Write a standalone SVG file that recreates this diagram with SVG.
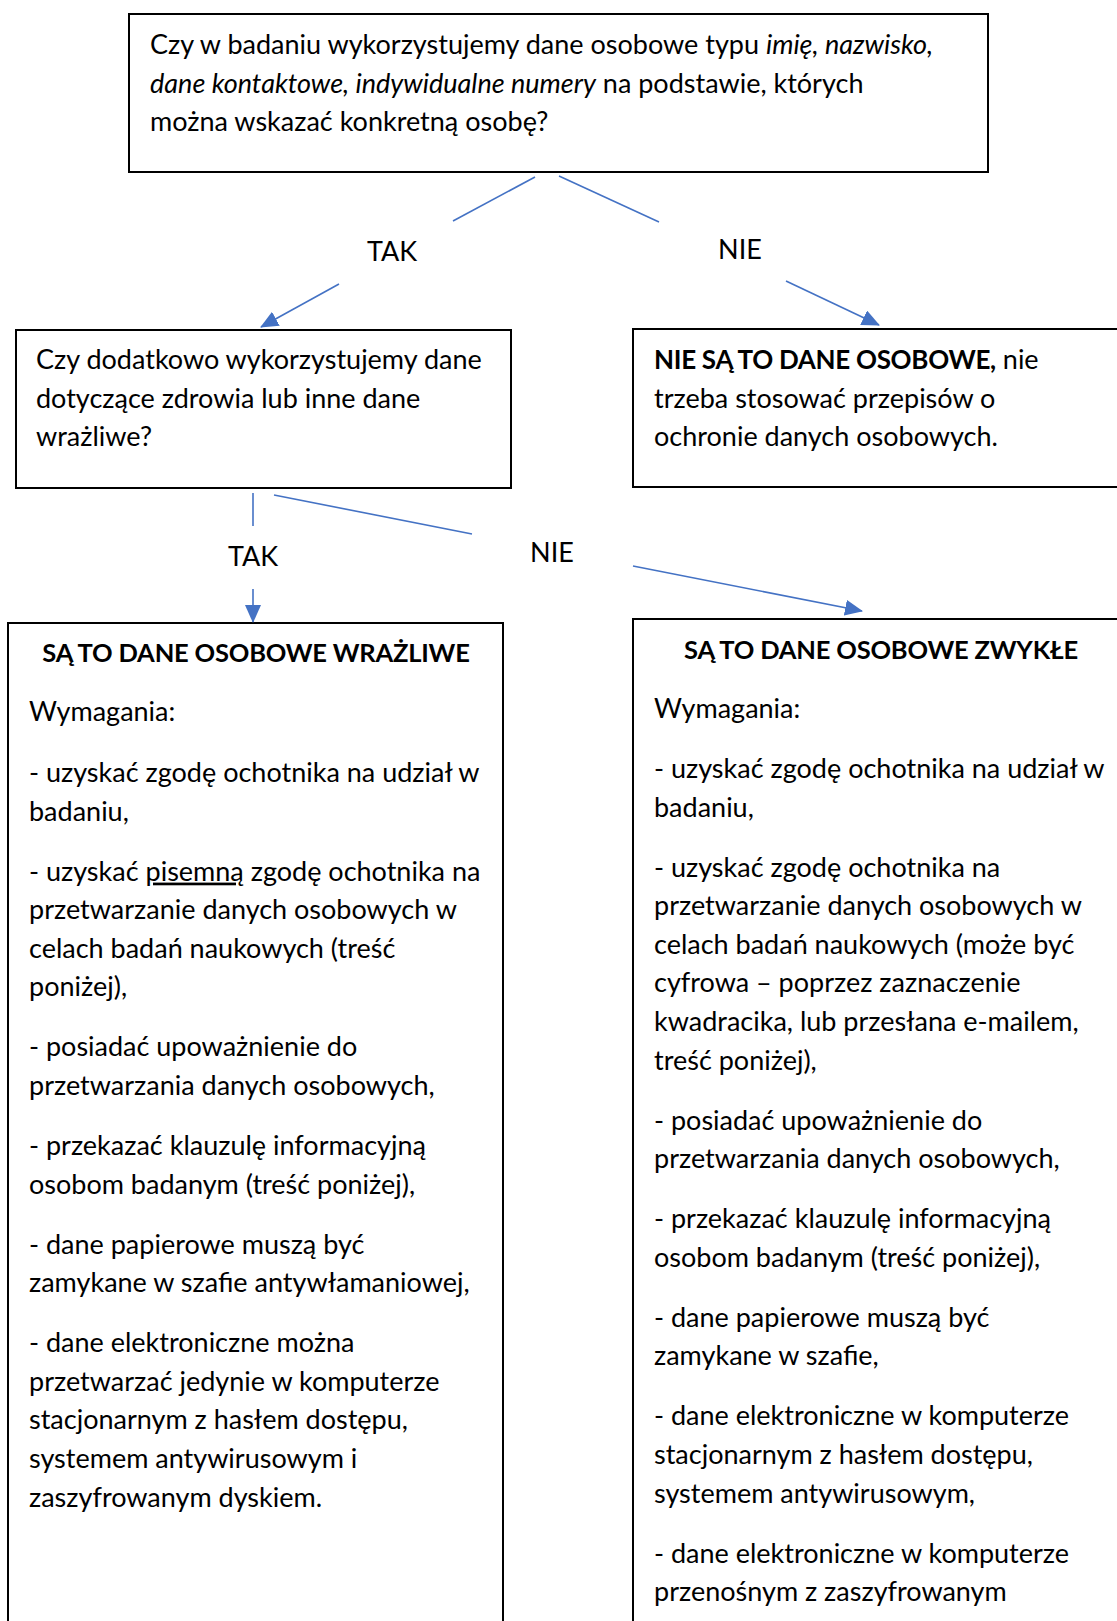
<svg xmlns="http://www.w3.org/2000/svg" width="1117" height="1621" viewBox="0 0 1117 1621">
<defs>
<style>
text{font-family:Lato,"Liberation Sans",sans-serif;font-size:27px;fill:#000}
.box{fill:#fff;stroke:#000;stroke-width:2}
.c{stroke:#4472C4;stroke-width:1.6;fill:none}
.b{font-weight:bold;font-size:25.5px;letter-spacing:-0.2px}
.i{font-style:italic}
.m{text-anchor:middle}
</style>
<marker id="ah" markerUnits="userSpaceOnUse" markerWidth="18" markerHeight="16" viewBox="0 0 18 16" refX="17" refY="8" orient="auto">
<path d="M0,0 L18,8 L0,16 Z" fill="#4472C4"/>
</marker>
</defs>
<rect width="1117" height="1621" fill="#fff"/>

<g id="q1">
<rect class="box" x="129" y="14" width="859" height="158"/>
<g transform="translate(0,2)">
<text x="150" y="52">Czy w badaniu wykorzystujemy dane osobowe typu <tspan class="i">imię, nazwisko,</tspan></text>
<text x="150" y="91"><tspan class="i">dane kontaktowe, indywidualne numery</tspan> na podstawie, których</text>
<text x="150" y="129">można wskazać konkretną osobę?</text>
</g>
</g>

<g id="q2">
<rect class="box" x="16" y="330" width="495" height="158"/>
<g transform="translate(0,2)">
<text x="36" y="367">Czy dodatkowo wykorzystujemy dane</text>
<text x="36" y="406">dotyczące zdrowia lub inne dane</text>
<text x="36" y="444">wrażliwe?</text>
</g>
</g>

<g id="nie1">
<rect class="box" x="633" y="329" width="500" height="158"/>
<g transform="translate(0,2)">
<text x="654" y="367"><tspan class="b" style="font-size:26px;letter-spacing:-0.3px">NIE SĄ TO DANE OSOBOWE,</tspan> nie</text>
<text x="654" y="406">trzeba stosować przepisów o</text>
<text x="654" y="444">ochronie danych osobowych.</text>
</g>
</g>

<g id="wrazliwe">
<rect class="box" x="8" y="623" width="495" height="1020"/>
<g transform="translate(0,2)">
<text class="b m" x="256" y="660">SĄ TO DANE OSOBOWE WRAŻLIWE</text>
<text x="29" y="719">Wymagania:</text>
<text x="29" y="780">- uzyskać zgodę ochotnika na udział w</text>
<text x="29" y="818.6">badaniu,</text>
<text x="29" y="878.6">- uzyskać <tspan text-decoration="underline">pisemną</tspan> zgodę ochotnika na</text>
<text x="29" y="917.2">przetwarzanie danych osobowych w</text>
<text x="29" y="955.8">celach badań naukowych (treść</text>
<text x="29" y="994.4">poniżej),</text>
<text x="29" y="1054.4">- posiadać upoważnienie do</text>
<text x="29" y="1093">przetwarzania danych osobowych,</text>
<text x="29" y="1153">- przekazać klauzulę informacyjną</text>
<text x="29" y="1191.6">osobom badanym (treść poniżej),</text>
<text x="29" y="1251.6">- dane papierowe muszą być</text>
<text x="29" y="1290.2">zamykane w szafie antywłamaniowej,</text>
<text x="29" y="1350.2">- dane elektroniczne można</text>
<text x="29" y="1388.8">przetwarzać jedynie w komputerze</text>
<text x="29" y="1427.4">stacjonarnym z hasłem dostępu,</text>
<text x="29" y="1466">systemem antywirusowym i</text>
<text x="29" y="1504.6">zaszyfrowanym dyskiem.</text>
</g>
</g>

<g id="zwykle">
<rect class="box" x="633" y="619" width="500" height="1024"/>
<g transform="translate(0,2)">
<text class="b m" x="881" y="657">SĄ TO DANE OSOBOWE ZWYKŁE</text>
<text x="654" y="716">Wymagania:</text>
<text x="654" y="776">- uzyskać zgodę ochotnika na udział w</text>
<text x="654" y="814.6">badaniu,</text>
<text x="654" y="874.6">- uzyskać zgodę ochotnika na</text>
<text x="654" y="913.2">przetwarzanie danych osobowych w</text>
<text x="654" y="951.8">celach badań naukowych (może być</text>
<text x="654" y="990.4">cyfrowa – poprzez zaznaczenie</text>
<text x="654" y="1029">kwadracika, lub przesłana e-mailem,</text>
<text x="654" y="1067.6">treść poniżej),</text>
<text x="654" y="1127.6">- posiadać upoważnienie do</text>
<text x="654" y="1166.2">przetwarzania danych osobowych,</text>
<text x="654" y="1226.2">- przekazać klauzulę informacyjną</text>
<text x="654" y="1264.8">osobom badanym (treść poniżej),</text>
<text x="654" y="1324.8">- dane papierowe muszą być</text>
<text x="654" y="1363.4">zamykane w szafie,</text>
<text x="654" y="1423.4">- dane elektroniczne w komputerze</text>
<text x="654" y="1462">stacjonarnym z hasłem dostępu,</text>
<text x="654" y="1500.6">systemem antywirusowym,</text>
<text x="654" y="1560.6">- dane elektroniczne w komputerze</text>
<text x="654" y="1599.2">przenośnym z zaszyfrowanym</text>
</g>
</g>

<g id="connectors">
<line class="c" x1="535" y1="177" x2="453" y2="221"/>
<line class="c" x1="339" y1="284" x2="261" y2="327" marker-end="url(#ah)"/>
<line class="c" x1="559" y1="176" x2="659" y2="222"/>
<line class="c" x1="786" y1="281" x2="879" y2="325" marker-end="url(#ah)"/>
<line class="c" x1="253" y1="493" x2="253" y2="526"/>
<line class="c" x1="253" y1="589" x2="253" y2="622" marker-end="url(#ah)"/>
<line class="c" x1="274" y1="495" x2="472" y2="534"/>
<line class="c" x1="633" y1="566" x2="862" y2="611" marker-end="url(#ah)"/>
<g transform="translate(0,2)">
<text class="m" x="392" y="259">TAK</text>
<text class="m" x="740" y="257">NIE</text>
<text class="m" x="253" y="564">TAK</text>
<text class="m" x="552" y="560">NIE</text>
</g>
</g>
</svg>
